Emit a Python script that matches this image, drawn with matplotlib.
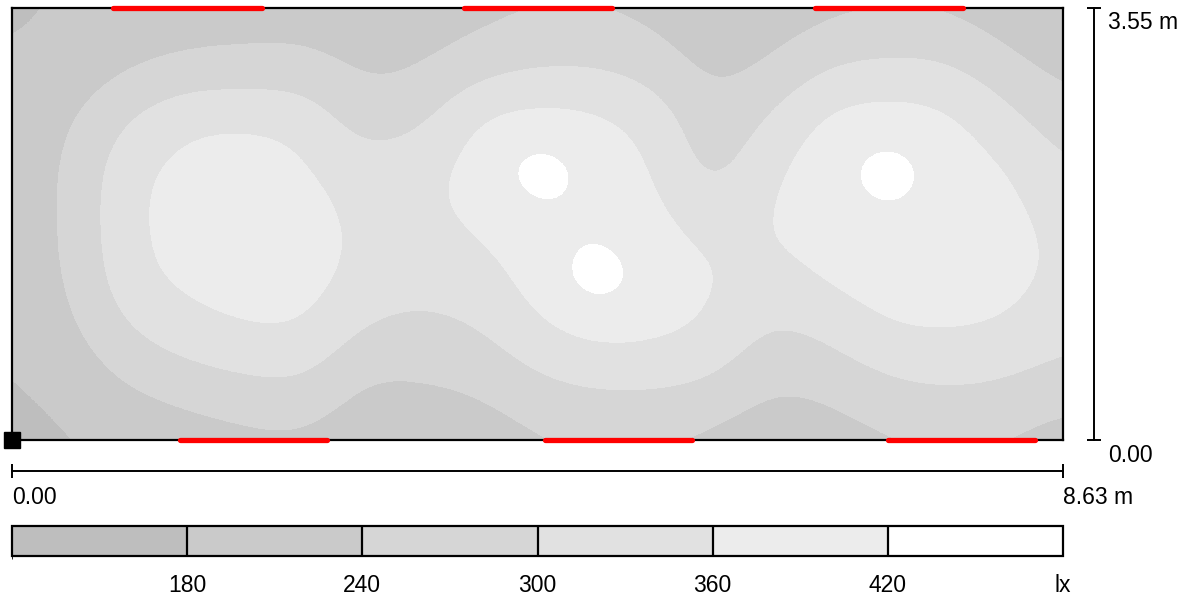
import numpy as np
import matplotlib
matplotlib.use("Agg")
import matplotlib.pyplot as plt
from matplotlib.colors import ListedColormap, BoundaryNorm
from matplotlib.cm import ScalarMappable

plt.rcParams["font.family"] = ["Liberation Sans", "DejaVu Sans"]

# Room size (m)
room_width = 8.63
room_depth = 3.55

# Illuminance (lx) on a regular calculation grid, rows from y = 0 to y = room_depth,
# columns from x = 0 to x = room_width
lux_rows = [
    [165, 175, 190, 205, 220, 225, 200, 195, 200, 230, 240, 240, 220, 200, 210, 230, 240, 235, 210],
    [175, 195, 240, 268, 285, 295, 228, 235, 248, 288, 305, 305, 292, 240, 252, 288, 302, 292, 268],
    [185, 225, 300, 335, 358, 362, 290, 280, 295, 345, 375, 375, 355, 285, 312, 360, 365, 355, 318],
    [198, 242, 345, 378, 392, 392, 340, 320, 335, 385, 482, 395, 368, 335, 372, 390, 388, 385, 345],
    [203, 245, 355, 385, 398, 390, 345, 345, 368, 395, 405, 382, 332, 366, 390, 400, 395, 385, 340],
    [203, 245, 350, 382, 390, 372, 325, 345, 385, 480, 400, 365, 262, 358, 395, 478, 392, 370, 305],
    [198, 232, 300, 352, 355, 345, 260, 280, 368, 375, 372, 340, 248, 305, 378, 382, 375, 320, 262],
    [185, 200, 228, 245, 248, 252, 225, 232, 268, 292, 292, 268, 215, 240, 295, 310, 305, 255, 215],
    [170, 185, 200, 210, 215, 215, 205, 205, 220, 235, 235, 222, 195, 202, 222, 232, 228, 205, 185],
]

# Iso-lux classes
lux_bounds = [120, 180, 240, 300, 360, 420, 480]
class_labels = ["180", "240", "300", "360", "420", "lx"]
class_colors = ["#bebebe", "#cacaca", "#d6d6d6", "#e1e1e1", "#ececec", "#ffffff"]

# Window / luminaire strips along the long walls: (x_start, x_end) in m
top_strips = [(0.83, 2.05), (3.71, 4.93), (6.59, 7.81)]
bottom_strips = [(1.38, 2.59), (4.38, 5.58), (7.19, 8.40)]

W, H = 1187, 598
fig = plt.figure(figsize=(W / 100, H / 100), dpi=100)

x0, x1 = 12, 1063
y0, y1 = 8, 440
ax = fig.add_axes([x0 / W, (H - y1) / H, (x1 - x0) / W, (y1 - y0) / H])

cmap = ListedColormap(class_colors)
norm = BoundaryNorm(lux_bounds, cmap.N)

field = np.array(lux_rows, dtype=float)
ny, nx = field.shape
dx = room_width / (nx - 1)
dy = room_depth / (ny - 1)
ax.imshow(field, origin="lower", cmap=cmap, norm=norm,
          extent=[-dx / 2, room_width + dx / 2, -dy / 2, room_depth + dy / 2],
          interpolation="bicubic", interpolation_stage="data", aspect="auto")
ax.set_xlim(0, room_width)
ax.set_ylim(0, room_depth)
ax.set_xticks([])
ax.set_yticks([])
for s in ax.spines.values():
    s.set_linewidth(1.6)
    s.set_color("black")

for a, b in top_strips:
    ax.plot([a, b], [room_depth, room_depth], color="#ff0000", lw=3.8,
            solid_capstyle="round", clip_on=False, zorder=5)
for a, b in bottom_strips:
    ax.plot([a, b], [0, 0], color="#ff0000", lw=3.8,
            solid_capstyle="round", clip_on=False, zorder=5)

# Origin marker
ax.plot([0], [0], marker="s", ms=11.5, color="black", clip_on=False, zorder=6)

# Dimension lines
px_per_m = (x1 - x0) / room_width
gap = 31 / px_per_m
ax.plot([room_width + gap] * 2, [0, room_depth], color="black", lw=1.4, clip_on=False)
ax.plot([room_width + gap] * 2, [0, room_depth], ls="none", marker="_", ms=10,
        mew=1.4, color="black", clip_on=False)
ax.plot([0, room_width], [-gap, -gap], color="black", lw=1.4, clip_on=False)
ax.plot([0, room_width], [-gap, -gap], ls="none", marker="|", ms=10,
        mew=1.4, color="black", clip_on=False)

fs = 16.5
ax.annotate(f"{room_depth:.2f} m", (room_width, room_depth), xytext=(32.5, -10.5),
            textcoords="offset points", ha="left", va="center", fontsize=fs,
            annotation_clip=False)
ax.annotate(f"{0:.2f}", (room_width, 0), xytext=(32.5, -11.5),
            textcoords="offset points", ha="left", va="center", fontsize=fs,
            annotation_clip=False)
ax.annotate(f"{0:.2f}", (0, 0), xytext=(0, -41.5),
            textcoords="offset points", ha="left", va="center", fontsize=fs,
            annotation_clip=False)
ax.annotate(f"{room_width:.2f} m", (room_width, 0), xytext=(0, -41.5),
            textcoords="offset points", ha="left", va="center", fontsize=fs,
            annotation_clip=False)

# Legend bar
cax = fig.add_axes([x0 / W, (H - 556) / H, (x1 - x0) / W, 30 / H])
sm = ScalarMappable(norm=norm, cmap=cmap)
cb = fig.colorbar(sm, cax=cax, orientation="horizontal", drawedges=True,
                  ticks=lux_bounds[1:])
cb.ax.set_xticklabels(class_labels)
cb.ax.tick_params(length=0, pad=13, labelsize=fs)
cb.outline.set_linewidth(1.6)
cb.dividers.set_linewidth(1.6)
cb.dividers.set_color("black")

fig.savefig("out.png", dpi=100)
